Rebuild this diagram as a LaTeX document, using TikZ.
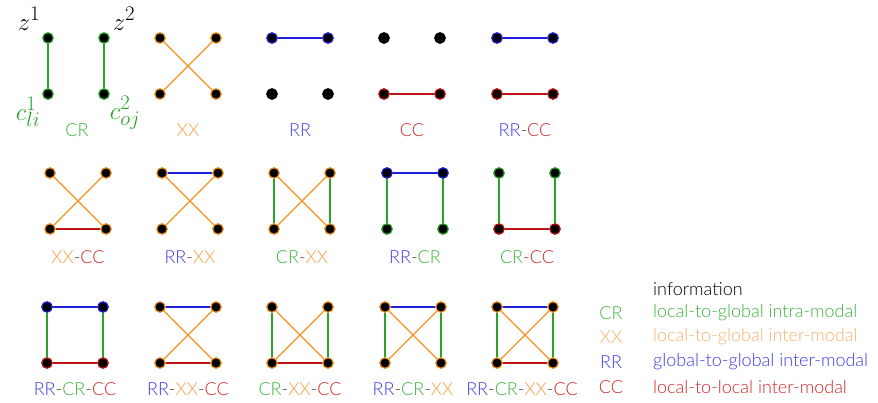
\documentclass[tikz,border=0pt]{standalone}
\usepackage{fontspec}
\setmainfont{Lato Light}
\definecolor{cg}{RGB}{40,165,40}
\definecolor{co}{RGB}{240,145,30}
\definecolor{cb}{RGB}{30,30,220}
\definecolor{cr}{RGB}{190,20,20}
\definecolor{tg}{RGB}{60,180,60}
\definecolor{to}{RGB}{245,160,70}
\definecolor{tol}{RGB}{248,178,110}
\definecolor{tb}{RGB}{60,60,230}
\definecolor{tr}{RGB}{205,40,40}
\definecolor{tk}{RGB}{60,60,60}
\tikzset{
  vtx/.style={circle,fill=black,draw=#1,line width=1.2pt,minimum size=10.5pt,inner sep=0pt},
  eCR/.style={draw=cg,line width=1.3pt},
  eXX/.style={draw=co,line width=1.3pt},
  eRR/.style={draw=cb,line width=1.3pt},
  eCC/.style={draw=cr,line width=1.3pt},
  lab/.style={font=\fontsize{18}{20}\selectfont,inner sep=0pt},
  leg/.style={font=\fontsize{18}{20}\selectfont,inner sep=0pt,anchor=west},
  mth/.style={font=\fontsize{29}{32}\selectfont,inner sep=0pt,anchor=base},
}
% name, x, y, outline colours tl tr bl br
\newcommand\mkquad[7]{%
  \node[vtx=#4] (#1tl) at (#2,#3) {};
  \node[vtx=#5] (#1tr) at (#2+56,#3) {};
  \node[vtx=#6] (#1bl) at (#2,#3+56) {};
  \node[vtx=#7] (#1br) at (#2+56,#3+56) {};}
\newcommand\qCR[1]{\draw[eCR] (#1tl)--(#1bl); \draw[eCR] (#1tr)--(#1br);}
\newcommand\qXX[1]{\draw[eXX] (#1tl)--(#1br); \draw[eXX] (#1tr)--(#1bl);}
\newcommand\qRR[1]{\draw[eRR] (#1tl)--(#1tr);}
\newcommand\qCC[1]{\draw[eCC] (#1bl)--(#1br);}
\newcommand\dsh{\textcolor{tk}{-}}
\newcommand\lCR{\textcolor{tg}{CR}}
\newcommand\lXX{\textcolor{to}{XX}}
\newcommand\lRR{\textcolor{tb}{RR}}
\newcommand\lCC{\textcolor{tr}{CC}}
\begin{document}
\begin{tikzpicture}[x=1pt,y=-1pt]
\useasboundingbox (0,0) rectangle (878,402);
% row 1
\mkquad{a}{48}{38}{cg}{cg}{cg}{cg} \qCR{a}
\mkquad{b}{160}{38}{co}{co}{co}{co} \qXX{b}
\mkquad{c}{272}{38}{cb}{cb}{black}{black} \qRR{c}
\mkquad{d}{384}{38}{black}{black}{cr}{cr} \qCC{d}
\mkquad{e}{497}{38}{cb}{cb}{cr}{cr} \qRR{e} \qCC{e}
% row 2
\mkquad{f}{50}{173}{co}{co}{co}{co} \qXX{f} \qCC{f}
\mkquad{g}{162}{173}{co}{co}{co}{co} \qRR{g} \qXX{g}
\mkquad{h}{274}{173}{co}{co}{co}{co} \qCR{h} \qXX{h}
\mkquad{i}{387}{173}{cb}{cb}{cg}{cg} \qRR{i} \qCR{i}
\mkquad{j}{499}{173}{cg}{cg}{cr}{cr} \qCR{j} \qCC{j}
% row 3
\mkquad{k}{47}{307}{cb}{cb}{cr}{cr} \qRR{k} \qCR{k} \qCC{k}
\mkquad{l}{160}{307}{co}{co}{co}{co} \qRR{l} \qXX{l} \qCC{l}
\mkquad{m}{272}{307}{co}{co}{co}{co} \qCR{m} \qXX{m} \qCC{m}
\mkquad{n}{385}{307}{co}{co}{co}{co} \qRR{n} \qCR{n} \qXX{n}
\mkquad{o}{497}{307}{co}{co}{co}{co} \qRR{o} \qCR{o} \qXX{o} \qCC{o}
% labels
\node[lab] (alab) at (77,130) {\lCR};
\node[lab] (blab) at (188,130) {\lXX};
\node[lab] (clab) at (300,130) {\lRR};
\node[lab] (dlab) at (412,130) {\lCC};
\node[lab] (elab) at (525,130) {\lRR\dsh\lCC};
\node[lab] (flab) at (78,257) {\lXX\dsh\lCC};
\node[lab] (glab) at (190,257) {\lRR\dsh\lXX};
\node[lab] (hlab) at (302,257) {\lCR\dsh\lXX};
\node[lab] (ilab) at (415,257) {\lRR\dsh\lCR};
\node[lab] (jlab) at (527,257) {\lCR\dsh\lCC};
\node[lab] (klab) at (75,389) {\lRR\dsh\lCR\dsh\lCC};
\node[lab] (llab) at (188,389) {\lRR\dsh\lXX\dsh\lCC};
\node[lab] (mlab) at (300,389) {\lCR\dsh\lXX\dsh\lCC};
\node[lab] (nlab) at (413,389) {\lRR\dsh\lCR\dsh\lXX};
\node[lab] (olab) at (522,389) {\lRR\dsh\lCR\dsh\lXX\dsh\lCC};
% math labels
\node[mth] (z1) at (29,30) {$z^1$};
\node[mth] (z2) at (124,30) {$z^2$};
\node[mth,text=cg] (c1) at (28,120) {$c_{li}^1$};
\node[mth,text=cg] (c2) at (125,119) {$c_{oj}^2$};
% legend
\node[leg,text=black] (info) at (653,289) {information};
\node[lab,text=tg] (lg1) at (611,313) {CR};
\node[leg,text=tg] (lt1) at (653,313) {local-to-global intra-modal};
\node[lab,text=tol] (lg2) at (611,337) {XX};
\node[leg,text=tol] (lt2) at (653,337) {local-to-global inter-modal};
\node[lab,text=tb] (lg3) at (611,362) {RR};
\node[leg,text=tb] (lt3) at (653,362) {global-to-global inter-modal};
\node[lab,text=tr] (lg4) at (611,387) {CC};
\node[leg,text=tr] (lt4) at (653,387) {local-to-local inter-modal};
\end{tikzpicture}
\end{document}
